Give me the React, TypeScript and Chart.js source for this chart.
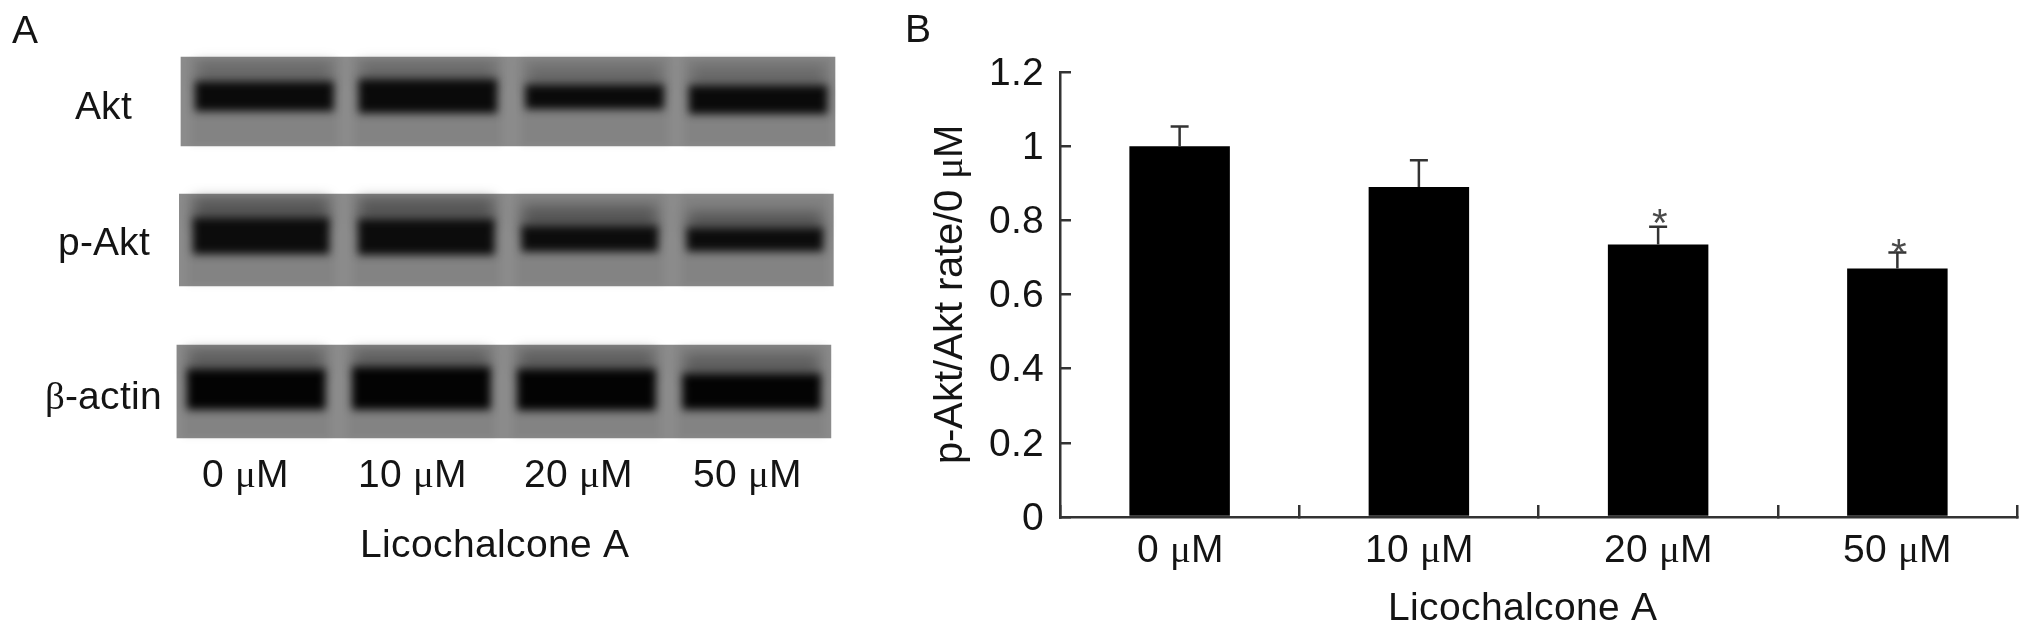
import React, { useEffect, useRef } from "react";
import { Chart, registerables } from "chart.js";

Chart.register(...registerables);

// Panel B: densitometry
const doses = ["0 μM", "10 μM", "20 μM", "50 μM"];
const ratioValues = [1.0, 0.89, 0.735, 0.67];
const ratioErrors = [0.053, 0.072, 0.048, 0.043];
const starValues = [null, null, 0.82, 0.74];
const ratioTicks = [0, 0.2, 0.4, 0.6, 0.8, 1, 1.2];

// Panel A: blot rows, in lane units (x) and migration units 0-100 (y)
const doseTickPositions = [0.89, 1.91, 2.93, 3.96];
const rowLabels = ["Akt", "p-Akt", "β-actin"];
const rowCentres = [14.7, 49.2, 88.1];
const stripCentres = [2.5, 2.49, 2.475];
const stripRanges = [[1.8, 24.3], [36.5, 59.7], [74.7, 98.2]];
const aktLanes = [1.01, 2.01, 3.03, 4.03];
const pAktLanes = [0.99, 2.0, 3.0, 4.01];
const actinLanes = [0.96, 1.97, 2.98, 3.99];
const aktBands = [[8.0, 15.4], [7.4, 15.9], [8.8, 14.9], [9.0, 16.1]];
const pAktBands = [[42.5, 51.6], [42.8, 51.8], [44.6, 51.0], [45.0, 50.9]];
const actinBands = [[80.8, 91.0], [80.2, 91.0], [80.8, 91.2], [82.0, 91.0]];
const aktSmears = [[3, 9], [3, 9], [4, 10], [4, 10]];
const pAktSmears = [[37.5, 44], [37.5, 44], [39.5, 46], [41, 46]];
const actinSmears = [[76, 82], [76, 81], [76, 82], [77, 83]];

const FONT = "MixText, 'Liberation Sans', Arial, sans-serif";
const INK = "#141414";
const LINE = "#333333";

const fontCss = `@font-face{font-family:MixText;src:local("Liberation Serif");unicode-range:U+3BC,U+3B2,U+B5;}
@font-face{font-family:MixText;src:local("Liberation Sans");unicode-range:U+0-B4,U+B6-3B1,U+3B3-3BB,U+3BD-FFFF;}`;

const blurPlugin = {
  id: "bandBlur",
  beforeDatasetDraw(chart: any, args: any) {
    const blur = chart.data.datasets[args.index].blurRadius;
    chart.ctx.save();
    if (blur) chart.ctx.filter = `blur(${blur}px)`;
  },
  afterDatasetDraw(chart: any) {
    chart.ctx.restore();
  },
};

const letterPlugin = (letter: string, x: number, y: number) => ({
  id: "panelLetter",
  afterDraw(chart: any) {
    const c = chart.ctx;
    c.save();
    c.font = `39px ${FONT}`;
    c.fillStyle = INK;
    c.textAlign = "left";
    c.textBaseline = "alphabetic";
    c.fillText(letter, x, y);
    c.restore();
  },
});

const errorPlugin = {
  id: "errorsAndStars",
  afterDatasetsDraw(chart: any) {
    const { ctx: c, scales } = chart;
    const meta = chart.getDatasetMeta(0);
    c.save();
    c.strokeStyle = LINE;
    c.lineWidth = 2.5;
    meta.data.forEach((bar: any, i: number) => {
      const top = scales.y.getPixelForValue(ratioValues[i] + ratioErrors[i]);
      const base = scales.y.getPixelForValue(ratioValues[i]);
      c.beginPath();
      c.moveTo(bar.x, base);
      c.lineTo(bar.x, top);
      c.moveTo(bar.x - 9, top);
      c.lineTo(bar.x + 9, top);
      c.stroke();
      const star = starValues[i];
      if (star !== null) {
        c.font = `40px ${FONT}`;
        c.fillStyle = "#4a4a4a";
        c.textAlign = "center";
        c.textBaseline = "alphabetic";
        c.fillText("*", bar.x + 2, scales.y.getPixelForValue(star) + 24);
      }
    });
    c.restore();
  },
};

const floating = (lanes: number[], ranges: number[][], color: string, thickness: number, blur: number) => ({
  data: lanes.map((x, i) => ({ x, y: ranges[i] })),
  backgroundColor: color,
  barThickness: thickness,
  grouped: false,
  clip: false,
  blurRadius: blur,
});

export default function App() {
  const aRef = useRef<HTMLCanvasElement>(null);
  const bRef = useRef<HTMLCanvasElement>(null);

  useEffect(() => {
    document.body.style.margin = "0";
    const style = document.createElement("style");
    style.textContent = fontCss;
    document.head.appendChild(style);

    const stripData = stripCentres.map((x, i) => ({ x, y: stripRanges[i] }));
    const fullLane = (row: number) => [0, 1, 2, 3].map(() => stripRanges[row]);
    // Chart.js paints the first dataset last, so the bottom layer comes last.
    const layers = [
      floating(actinLanes, actinBands, "#030303", 138, 4),
      floating(pAktLanes, pAktBands, "#0c0c0c", 136, 4.5),
      floating(aktLanes, aktBands, "#0a0a0a", 138, 4),
      floating(actinLanes, actinSmears, "rgba(0,0,0,0.28)", 134, 7),
      floating(pAktLanes, pAktSmears, "rgba(0,0,0,0.34)", 134, 7),
      floating(aktLanes, aktSmears, "rgba(0,0,0,0.2)", 134, 7),
      floating(actinLanes, fullLane(2), "rgba(0,0,0,0.05)", 146, 3),
      floating(pAktLanes, fullLane(1), "rgba(0,0,0,0.05)", 146, 3),
      floating(aktLanes, fullLane(0), "rgba(0,0,0,0.05)", 146, 3),
      { data: stripData, backgroundColor: "#8b8b8b", barThickness: 654, grouped: false, clip: false },
    ];

    const chartA = new Chart(aRef.current!, {
      type: "bar",
      data: { datasets: layers as any },
      plugins: [blurPlugin, letterPlugin("A", 12, 43)],
      options: {
        animation: false,
        responsive: false,
        layout: { padding: { top: 50, right: 62 } },
        plugins: { legend: { display: false }, tooltip: { enabled: false } },
        scales: {
          x: {
            type: "linear",
            offset: false,
            min: 0.433,
            max: 4.396,
            grid: { display: false },
            border: { display: false },
            afterBuildTicks: (s: any) => { s.ticks = doseTickPositions.map((value) => ({ value })); },
            afterFit: (s: any) => { s.height = 187; },
            ticks: {
              autoSkip: false,
              maxRotation: 0,
              padding: 0,
              color: INK,
              font: { family: FONT, size: 39 },
              callback: (v: any) => doses[doseTickPositions.indexOf(v)],
            },
            title: { display: true, text: "Licochalcone A", color: INK, font: { family: FONT, size: 39 }, padding: { bottom: 62 } },
          },
          y: {
            reverse: true,
            min: 0,
            max: 100,
            grid: { display: false },
            border: { display: false },
            afterBuildTicks: (s: any) => { s.ticks = rowCentres.map((value) => ({ value })); },
            afterFit: (s: any) => { s.width = 170; },
            ticks: {
              autoSkip: false,
              crossAlign: "center",
              padding: 0,
              color: INK,
              font: { family: FONT, size: 39 },
              callback: (v: any) => rowLabels[rowCentres.indexOf(v)],
            },
          },
        },
      } as any,
    });

    const chartB = new Chart(bRef.current!, {
      type: "bar",
      data: {
        labels: doses,
        datasets: [{ data: ratioValues, backgroundColor: "#000", barPercentage: 0.42, categoryPercentage: 1 }],
      },
      plugins: [errorPlugin, letterPlugin("B", 25, 42)],
      options: {
        animation: false,
        responsive: false,
        layout: { padding: { top: 72, right: 14 } },
        plugins: { legend: { display: false }, tooltip: { enabled: false } },
        scales: {
          x: {
            grid: { drawOnChartArea: false, tickLength: -12, color: LINE, lineWidth: 2.5, offset: true },
            border: { color: LINE, width: 2.5 },
            afterFit: (s: any) => { s.height = 115; },
            ticks: { padding: 23, color: INK, font: { family: FONT, size: 39 }, maxRotation: 0, autoSkip: false },
            title: { display: true, text: "Licochalcone A\u00a0\u00a0\u00a0", color: INK, font: { family: FONT, size: 39 }, padding: { bottom: -1 } },
          },
          y: {
            min: 0,
            max: 1.2,
            grid: { drawOnChartArea: false, tickLength: -11, color: LINE, lineWidth: 2.5 },
            border: { color: LINE, width: 2.5 },
            afterBuildTicks: (s: any) => { s.ticks = ratioTicks.map((value) => ({ value })); },
            afterFit: (s: any) => { s.width = 180; },
            ticks: { padding: 27, labelOffset: 2, color: INK, font: { family: FONT, size: 39 }, callback: (v: any) => String(v) },
            title: { display: true, text: "p-Akt/Akt rate/0 μM", color: INK, font: { family: FONT, size: 40 }, padding: { top: 47 } },
          },
        },
      } as any,
    });

    let alive = true;
    Promise.all([document.fonts.load(`39px MixText`, "μβ"), document.fonts.load(`39px MixText`, "A")]).then(() => {
      if (alive) { chartA.update(); chartB.update(); }
    });

    return () => {
      alive = false;
      chartA.destroy();
      chartB.destroy();
      style.remove();
    };
  }, []);

  const canvasStyle = (left: number): React.CSSProperties => ({ position: "absolute", left, top: 0, display: "block", filter: "blur(0.6px)" });
  return (
    <div style={{ position: "absolute", left: 0, top: 0, width: 2031, height: 632, overflow: "hidden", background: "#fff" }}>
      <canvas ref={aRef} width={880} height={632} style={canvasStyle(0)} />
      <canvas ref={bRef} width={1151} height={632} style={canvasStyle(880)} />
    </div>
  );
}
